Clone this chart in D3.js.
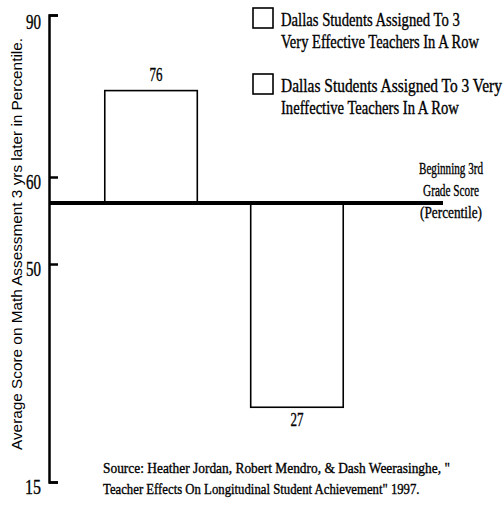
<!DOCTYPE html>
<html>
<head>
<meta charset="utf-8">
<script src="https://d3js.org/d3.v7.min.js"></script>
<style>
  body { margin: 0; background: #fff; }
  text { fill: #000; }
  .serif { font-family: "Liberation Serif", "Times New Roman", serif; stroke: #000; stroke-width: 0.35px; }
</style>
</head>
<body>
<div id="chart"></div>
<script>
// data
var groups = ["effective", "ineffective"];
var scores = [76, 27];
var startScore = 57;           // beginning 3rd grade score (percentile)
var tickValues = [15, 50, 60, 90];
var legendLines = [
  ["Dallas Students Assigned To 3", "Very Effective Teachers In A Row"],
  ["Dallas Students Assigned To 3 Very", "Ineffective Teachers In A Row"]
];
var baseLabel = ["Beginning 3rd", "Grade Score", "(Percentile)"];
var sourceLines = [
  "Source:  Heather Jordan, Robert Mendro, & Dash Weerasinghe, \"",
  "Teacher Effects On Longitudinal Student Achievement\" 1997."
];

var W = 504, H = 507;
var svg = d3.select("#chart").append("svg").attr("width", W).attr("height", H);

// the print is set in a condensed face: squeeze a text to a given width
// anchor: 0 left, 0.5 middle, 1 right
function squeeze(parent, str, px, py, width, size, anchor) {
  var g = parent.append("g");
  var t = g.append("text").attr("class", "serif")
    .attr("text-anchor", "start")
    .style("font-size", size + "px").text(str);
  var n = t.node().getComputedTextLength();
  var k = width / n;
  g.attr("transform", "translate(" + (px - anchor * width) + "," + py + ") scale(" + k + ",1)");
  return t;
}

// the original axis is not linear, so a piecewise scale through the ticks
var y = d3.scaleLinear().domain(tickValues).range([482, 264, 177, 15]);
var x = d3.scaleBand().domain(groups).range([61, 387]).paddingInner(0.366).paddingOuter(0.3);

var axisX = 49;
var axis = d3.axisLeft(y).tickValues(tickValues).tickSizeInner(-9).tickSizeOuter(-9).tickFormat("");
var ag = svg.append("g").attr("transform", "translate(" + axisX + ",0)").call(axis);
ag.select(".domain").attr("stroke", "#000").attr("stroke-width", 2.5).attr("fill", "none");
ag.selectAll(".tick line").attr("stroke", "#000").attr("stroke-width", 2.5);
ag.selectAll(".tick").each(function (d) {
  var off = d === 90 ? 13 : 11;
  squeeze(d3.select(this), String(d), -8, off, d === 15 ? 16 : 15, 20, 1);
});

// bars
svg.selectAll("rect.bar").data(scores).enter().append("rect")
  .attr("class", "bar")
  .attr("x", function (d, i) { return x(groups[i]); })
  .attr("width", x.bandwidth())
  .attr("y", function (d) { return Math.min(y(d), y(startScore)); })
  .attr("height", function (d) { return Math.abs(y(d) - y(startScore)); })
  .attr("fill", "#fff")
  .attr("stroke", "#000")
  .attr("stroke-width", 1.6);

scores.forEach(function (d, i) {
  var cx = x(groups[i]) + x.bandwidth() / 2 + (d > startScore ? 5 : 0);
  squeeze(svg, String(d), cx, d > startScore ? y(d) - 10 : y(d) + 19, 13, 18, 0.5);
});

// starting score line
svg.append("line")
  .attr("x1", axisX).attr("x2", 443)
  .attr("y1", y(startScore)).attr("y2", y(startScore))
  .attr("stroke", "#000").attr("stroke-width", 4);

var blLen = [64, 56, 62];
baseLabel.forEach(function (s, i) {
  squeeze(svg, s, 451, 174 + i * 22, blLen[i], 17, 0.5);
});

// legend
var legLen = [[179, 198], [221, 178]];
legendLines.forEach(function (lines, i) {
  var top = 8 + i * 66;
  svg.append("rect").attr("x", 253).attr("y", top).attr("width", 20).attr("height", 20)
    .attr("fill", "#fff").attr("stroke", "#000").attr("stroke-width", 1.6);
  lines.forEach(function (s, j) {
    squeeze(svg, s, 281, top + 18 + j * 22, legLen[i][j], 18, 0);
  });
});

// y axis title
svg.append("text")
  .attr("transform", "translate(22,244) rotate(-90)")
  .attr("text-anchor", "middle")
  .style("font-family", "'Liberation Sans', Arial, sans-serif")
  .style("font-size", "14.5px")
  .attr("textLength", 412)
  .attr("lengthAdjust", "spacingAndGlyphs")
  .text("Average Score on Math Assessment 3 yrs later in Percentile.");

// source
var srcLen = [347, 317];
sourceLines.forEach(function (s, i) {
  squeeze(svg, s, 103, 473 + i * 21, srcLen[i], 15, 0);
});
</script>
</body>
</html>
